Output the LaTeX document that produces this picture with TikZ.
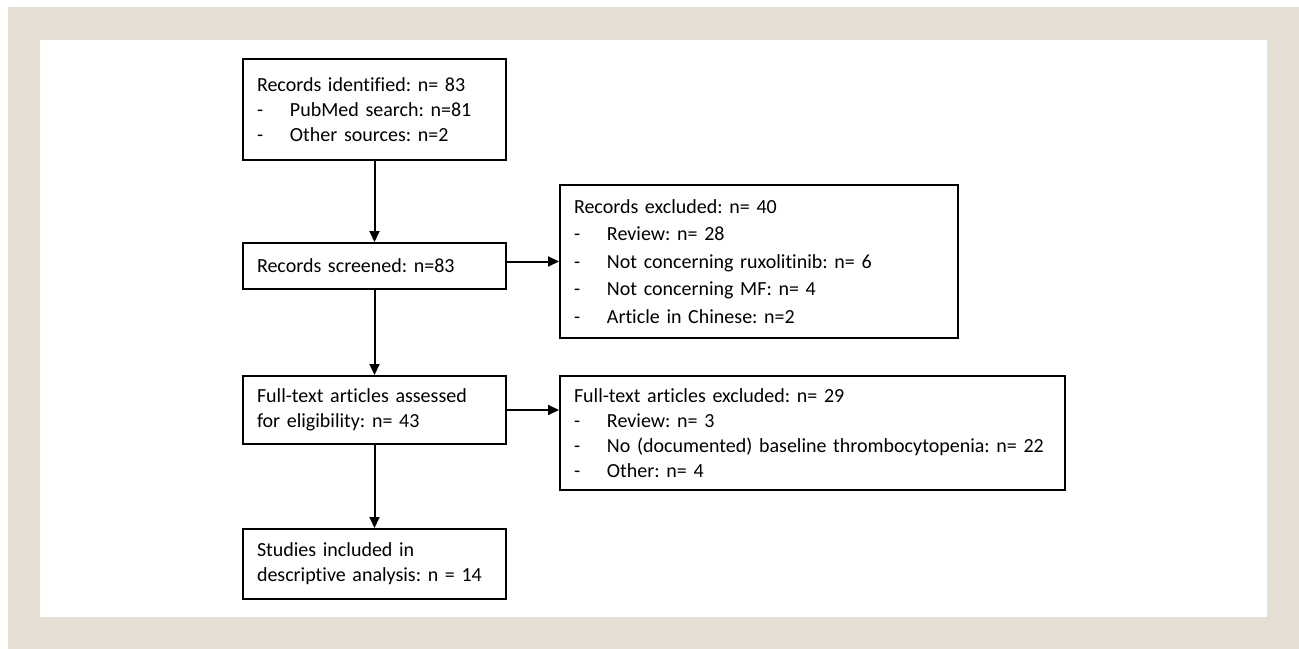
\documentclass[tikz,border=0pt]{standalone}
\usepackage{fontspec}
\setmainfont{Carlito}[Ligatures=NoCommon]
\usetikzlibrary{arrows.meta}
\definecolor{framebeige}{HTML}{E5DED2}
\newcommand{\dashitem}[1]{\makebox[24.75pt][l]{-}#1}
\frenchspacing

\begin{document}
\begin{tikzpicture}[x=0.75pt,y=-0.75pt,
    flowbox/.style={draw,line width=1.5pt,anchor=north west,inner xsep=10.5pt,inner ysep=0pt,
      align=left,font=\fontsize{15}{18.75}\selectfont},
    flowarrow/.style={line width=1.5pt,-{Triangle[length=8.25pt,width=7.5pt]}}]
  \useasboundingbox (0,0) rectangle (1299,649);
  \fill[framebeige] (8,7) rectangle (1299,649);
  \fill[white] (40,40) rectangle (1267,617);
  % main column
  \node[flowbox,text width=176.25pt,minimum height=75.75pt] (identified) at (242,58)
    {Records identified: n= 83\\ \dashitem{PubMed search: n=81}\\ \dashitem{Other sources: n=2}};
  \node[flowbox,text width=176.25pt,minimum height=34.5pt] (screened) at (242,242)
    {Records screened: n=83};
  \node[flowbox,text width=176.25pt,minimum height=51pt] (assessed) at (242,375)
    {Full-text articles assessed\\ for eligibility: n= 43};
  \node[flowbox,text width=176.25pt,minimum height=52.5pt] (included) at (242,528)
    {Studies included in\\ descriptive analysis: n = 14};
  % exclusions
  \node[flowbox,text width=277.5pt,minimum height=114.75pt] (recexcl) at (559,184)
    {Records excluded: n= 40\\[1.9pt] \dashitem{Review: n= 28}\\[1.9pt] \dashitem{Not concerning ruxolitinib: n= 6}\\[1.9pt]
     \dashitem{Not concerning MF: n= 4}\\[1.9pt] \dashitem{Article in Chinese: n=2}};
  \node[flowbox,text width=357.75pt,minimum height=85.5pt] (fullexcl) at (559,375)
    {Full-text articles excluded: n= 29\\ \dashitem{Review: n= 3}\\ \dashitem{No (documented) baseline thrombocytopenia: n= 22}\\
     \dashitem{Other: n= 4}};
  \draw[flowarrow] (identified.south) -- (screened.north);
  \draw[flowarrow] (screened.south) -- (assessed.north);
  \draw[flowarrow] (assessed.south) -- (included.north);
  \draw[flowarrow] (recexcl.west -| screened.east) -- (recexcl.west);
  \draw[flowarrow] (assessed.east) -- (assessed.east -| fullexcl.west);
\end{tikzpicture}
\end{document}
